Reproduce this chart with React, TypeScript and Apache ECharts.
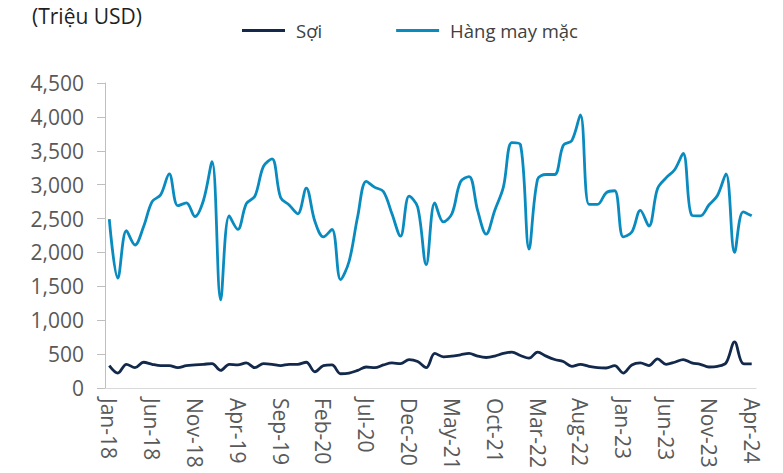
import React, { useEffect, useRef } from "react";
import * as echarts from "echarts";

const monthNames = ["Jan", "Feb", "Mar", "Apr", "May", "Jun", "Jul", "Aug", "Sep", "Oct", "Nov", "Dec"];
const categories: string[] = [];
for (let y = 18; y <= 24; y++) {
  for (let m = 0; m < 12; m++) {
    if (y === 24 && m > 3) break;
    categories.push(`${monthNames[m]}-${y}`);
  }
}

const yarn = [
  330, 220, 350, 300, 380, 350, 330, 330, 300, 330, 340, 350,
  360, 260, 350, 340, 370, 300, 360, 350, 330, 350, 350, 380,
  240, 330, 340, 210, 220, 260, 310, 300, 340, 370, 360, 420,
  390, 300, 510, 460, 470, 490, 510, 470, 450, 470, 510, 530,
  480, 440, 530, 470, 420, 390, 320, 350, 320, 300, 295, 330,
  220, 340, 370, 330, 430, 350, 380, 420, 370, 350, 310, 320,
  370, 680, 360, 355,
];

const garment = [
  2490, 1620, 2320, 2110, 2380, 2750, 2850, 3160, 2690, 2730, 2530, 2770,
  3340, 1300, 2540, 2340, 2720, 2830, 3270, 3380, 2810, 2700, 2570, 2950,
  2460, 2230, 2340, 1600, 1870, 2530, 3050, 2960, 2900, 2570, 2240, 2830,
  2670, 1820, 2730, 2450, 2570, 3040, 3120, 2620, 2270, 2620, 2960, 3620,
  3590, 2050, 3080, 3150, 3150, 3580, 3650, 4030, 2710, 2710, 2880, 2910,
  2230, 2300, 2620, 2390, 2940, 3100, 3220, 3460, 2550, 2540, 2700, 2840,
  3160, 2000, 2600, 2540,
];

const FONT = "'Open Sans', 'Noto Sans', sans-serif";
const YARN_COLOR = "#13294b";
const GARMENT_COLOR = "#0a8bbf";

export default function App() {
  const ref = useRef<HTMLDivElement>(null);
  useEffect(() => {
    if (!ref.current) return;
    const chart = echarts.init(ref.current, undefined, { renderer: "svg" });
    chart.setOption({
      animation: false,
      textStyle: { fontFamily: FONT },
      title: {
        text: "(Triệu USD)",
        left: 27,
        top: 0,
        textStyle: { fontFamily: FONT, fontSize: 21, fontWeight: "normal", color: "#1f1f1f" },
      },
      legend: {
        left: 237,
        top: 16,
        icon: "rect",
        itemWidth: 43,
        itemHeight: 3,
        itemGap: 74,
        textStyle: { fontFamily: FONT, fontSize: 18.5, color: "#404040", padding: [0, 0, 0, 6] },
        data: ["Sợi", "Hàng may mặc"],
      },
      grid: { left: 105, right: 27, top: 83, bottom: 85, containLabel: false },
      xAxis: {
        type: "category",
        data: categories,
        boundaryGap: true,
        axisLine: { show: true, lineStyle: { color: "#d9d9d9", width: 1 } },
        axisTick: { show: false },
        axisLabel: {
          interval: 4,
          rotate: -90,
          margin: 10,
          fontFamily: FONT,
          fontSize: 21,
          color: "#595959",
        },
        splitLine: { show: false },
      },
      yAxis: {
        type: "value",
        min: 0,
        max: 4500,
        interval: 500,
        axisLine: { show: true, lineStyle: { color: "#bfbfbf", width: 1 } },
        axisTick: { show: true, length: 8, lineStyle: { color: "#bfbfbf" } },
        axisLabel: {
          margin: 21,
          fontFamily: FONT,
          fontSize: 21,
          color: "#595959",
          formatter: (v: number) => v.toLocaleString("en-US"),
        },
        splitLine: { show: false },
      },
      series: [
        {
          name: "Sợi",
          type: "line",
          data: yarn,
          smooth: 0.35,
          symbol: "none",
          lineStyle: { color: YARN_COLOR, width: 2.8 },
          itemStyle: { color: YARN_COLOR },
        },
        {
          name: "Hàng may mặc",
          type: "line",
          data: garment,
          smooth: 0.35,
          symbol: "none",
          lineStyle: { color: GARMENT_COLOR, width: 2.8 },
          itemStyle: { color: GARMENT_COLOR },
        },
      ],
    });
    return () => chart.dispose();
  }, []);
  return (
    <div
      ref={ref}
      style={{ position: "fixed", left: 0, top: 0, width: 783, height: 473, background: "#fff" }}
    />
  );
}
